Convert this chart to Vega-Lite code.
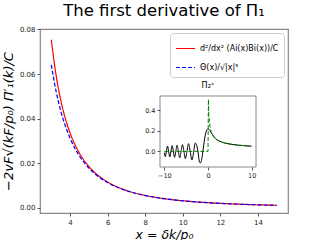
{
  "$schema": "https://vega.github.io/schema/vega-lite/v6.json",
  "width": 248,
  "height": 184,
  "autosize": {"type": "none"},
  "padding": {"left": 40, "top": 29, "right": 32, "bottom": 27},
  "background": "white",
  "title": {"text": "The first derivative of Π₁", "fontSize": 16.5, "font": "DejaVu Sans", "fontWeight": "normal", "color": "black", "offset": 6},
  "config": {
    "font": "DejaVu Sans",
    "view": {"stroke": "#888888", "strokeWidth": 1.2},
    "axis": {"grid": false, "domain": false, "tickColor": "#555555", "tickSize": 3, "labelFontSize": 7, "labelColor": "#222222", "labelFont": "DejaVu Sans", "titleFont": "DejaVu Sans", "titleFontWeight": "normal", "titleColor": "black"},
    "legend": {"title": null, "orient": "top-right", "offset": 4, "fillColor": "white", "strokeColor": "#cccccc", "cornerRadius": 3, "padding": 5, "rowPadding": 4, "labelFontSize": 8, "labelColor": "black", "symbolType": "stroke", "symbolSize": 360, "symbolStrokeWidth": 1.2}
  },
  "datasets": {
    "main": [
      {"x": 3, "v": 0.0754, "curve": "d²/dx² (Ai(x)Bi(x))/C"},
      {"x": 3.25, "v": 0.05979, "curve": "d²/dx² (Ai(x)Bi(x))/C"},
      {"x": 3.5, "v": 0.04846, "curve": "d²/dx² (Ai(x)Bi(x))/C"},
      {"x": 3.75, "v": 0.04003, "curve": "d²/dx² (Ai(x)Bi(x))/C"},
      {"x": 4, "v": 0.03357, "curve": "d²/dx² (Ai(x)Bi(x))/C"},
      {"x": 4.5, "v": 0.02449, "curve": "d²/dx² (Ai(x)Bi(x))/C"},
      {"x": 5, "v": 0.01857, "curve": "d²/dx² (Ai(x)Bi(x))/C"},
      {"x": 5.5, "v": 0.0145, "curve": "d²/dx² (Ai(x)Bi(x))/C"},
      {"x": 6, "v": 0.01159, "curve": "d²/dx² (Ai(x)Bi(x))/C"},
      {"x": 7, "v": 0.007821, "curve": "d²/dx² (Ai(x)Bi(x))/C"},
      {"x": 8, "v": 0.005575, "curve": "d²/dx² (Ai(x)Bi(x))/C"},
      {"x": 9, "v": 0.004142, "curve": "d²/dx² (Ai(x)Bi(x))/C"},
      {"x": 10, "v": 0.003177, "curve": "d²/dx² (Ai(x)Bi(x))/C"},
      {"x": 11, "v": 0.002501, "curve": "d²/dx² (Ai(x)Bi(x))/C"},
      {"x": 12, "v": 0.002011, "curve": "d²/dx² (Ai(x)Bi(x))/C"},
      {"x": 13, "v": 0.001645, "curve": "d²/dx² (Ai(x)Bi(x))/C"},
      {"x": 14, "v": 0.001366, "curve": "d²/dx² (Ai(x)Bi(x))/C"},
      {"x": 15, "v": 0.00115, "curve": "d²/dx² (Ai(x)Bi(x))/C"},
      {"x": 3, "v": 0.06415, "curve": "Θ(x)/√|x|⁵"},
      {"x": 3.25, "v": 0.05252, "curve": "Θ(x)/√|x|⁵"},
      {"x": 3.5, "v": 0.04363, "curve": "Θ(x)/√|x|⁵"},
      {"x": 3.75, "v": 0.03672, "curve": "Θ(x)/√|x|⁵"},
      {"x": 4, "v": 0.03125, "curve": "Θ(x)/√|x|⁵"},
      {"x": 4.5, "v": 0.02328, "curve": "Θ(x)/√|x|⁵"},
      {"x": 5, "v": 0.01789, "curve": "Θ(x)/√|x|⁵"},
      {"x": 5.5, "v": 0.0141, "curve": "Θ(x)/√|x|⁵"},
      {"x": 6, "v": 0.01134, "curve": "Θ(x)/√|x|⁵"},
      {"x": 7, "v": 0.007714, "curve": "Θ(x)/√|x|⁵"},
      {"x": 8, "v": 0.005524, "curve": "Θ(x)/√|x|⁵"},
      {"x": 9, "v": 0.004115, "curve": "Θ(x)/√|x|⁵"},
      {"x": 10, "v": 0.003162, "curve": "Θ(x)/√|x|⁵"},
      {"x": 11, "v": 0.002492, "curve": "Θ(x)/√|x|⁵"},
      {"x": 12, "v": 0.002005, "curve": "Θ(x)/√|x|⁵"},
      {"x": 13, "v": 0.001641, "curve": "Θ(x)/√|x|⁵"},
      {"x": 14, "v": 0.001364, "curve": "Θ(x)/√|x|⁵"},
      {"x": 15, "v": 0.001148, "curve": "Θ(x)/√|x|⁵"}
    ],
    "inset_black": [
      {"x": -10, "v": -0.0123}, {"x": -9.79, "v": -0.0509}, {"x": -9.537, "v": 0},
      {"x": -9.281, "v": 0.0522}, {"x": -9.021, "v": 0}, {"x": -8.758, "v": -0.0538},
      {"x": -8.49, "v": 0}, {"x": -8.219, "v": 0.0555}, {"x": -7.943, "v": 0},
      {"x": -7.662, "v": -0.0575}, {"x": -7.375, "v": 0}, {"x": -7.083, "v": 0.0598},
      {"x": -6.784, "v": 0}, {"x": -6.48, "v": -0.0625}, {"x": -6.168, "v": 0},
      {"x": -5.847, "v": 0.0658}, {"x": -5.517, "v": 0}, {"x": -5.178, "v": -0.0699},
      {"x": -4.827, "v": 0}, {"x": -4.462, "v": 0.0753}, {"x": -4.082, "v": 0},
      {"x": -3.683, "v": -0.0829}, {"x": -3.262, "v": 0}, {"x": -3.0, "v": 0.0751},
      {"x": -2.85, "v": 0.08}, {"x": -2.5, "v": 0.0431}, {"x": -2.25, "v": -0.015},
      {"x": -2.0, "v": -0.0938}, {"x": -1.75, "v": -0.112}, {"x": -1.5, "v": -0.089},
      {"x": -1.25, "v": -0.0239}, {"x": -1.0, "v": 0.0557}, {"x": -0.75, "v": 0.1283},
      {"x": -0.5, "v": 0.181}, {"x": -0.25, "v": 0.2099}, {"x": 0, "v": 0.2184},
      {"x": 0.25, "v": 0.2124}, {"x": 0.5, "v": 0.1979}, {"x": 1, "v": 0.1634},
      {"x": 1.5, "v": 0.1348}, {"x": 2, "v": 0.1152}, {"x": 3, "v": 0.0925},
      {"x": 4, "v": 0.0798}, {"x": 5, "v": 0.0713}, {"x": 6, "v": 0.065},
      {"x": 7, "v": 0.0602}, {"x": 8, "v": 0.0563}, {"x": 9, "v": 0.0531}, {"x": 10, "v": 0.0503}
    ],
    "inset_green": [
      {"x": -10, "v": 0}, {"x": 0, "v": 0}, {"x": 0.1, "v": 0.5033}, {"x": 0.15, "v": 0.411},
      {"x": 0.2, "v": 0.3559}, {"x": 0.3, "v": 0.2906}, {"x": 0.5, "v": 0.2251},
      {"x": 0.75, "v": 0.1838}, {"x": 1, "v": 0.1592}, {"x": 1.5, "v": 0.1299},
      {"x": 2, "v": 0.1125}, {"x": 3, "v": 0.0919}, {"x": 4, "v": 0.0796},
      {"x": 5, "v": 0.0712}, {"x": 6, "v": 0.065}, {"x": 7, "v": 0.0602},
      {"x": 8, "v": 0.0563}, {"x": 9, "v": 0.0531}, {"x": 10, "v": 0.0503}
    ]
  },
  "layer": [
    {
      "data": {"name": "main"},
      "mark": {"type": "line", "strokeWidth": 1.2, "interpolate": "monotone"},
      "encoding": {
        "x": {"field": "x", "type": "quantitative", "scale": {"domain": [2.4, 15.6], "nice": false, "zero": false},
              "axis": {"orient": "bottom", "values": [4, 6, 8, 10, 12, 14], "title": "x = δk/p₀", "titleFontSize": 12.5, "titleFontStyle": "italic", "titlePadding": 3}},
        "y": {"field": "v", "type": "quantitative", "scale": {"domain": [-0.0023, 0.0802], "nice": false, "zero": false},
              "axis": {"orient": "left", "values": [0, 0.02, 0.04, 0.06, 0.08], "format": ".2f", "title": "−2vF√(kF/p₀) Π′₁(k)/C", "titleFontSize": 13, "titleFontStyle": "italic", "titlePadding": 4}},
        "color": {"field": "curve", "type": "nominal", "sort": null, "title": null,
                  "scale": {"domain": ["d²/dx² (Ai(x)Bi(x))/C", "Θ(x)/√|x|⁵"], "range": ["#ff0000", "#0000ff"]}},
        "strokeDash": {"field": "curve", "type": "nominal", "sort": null, "title": null,
                  "scale": {"domain": ["d²/dx² (Ai(x)Bi(x))/C", "Θ(x)/√|x|⁵"], "range": [[1, 0], [4, 2]]}}
      }
    },
    {
      "data": {"values": [{}]},
      "mark": {"type": "rect", "fill": "white", "stroke": "#888888", "strokeWidth": 1},
      "encoding": {
        "x": {"datum": -11, "type": "quantitative", "scale": {"domain": [-11, 11], "range": [120, 216], "nice": false, "zero": false}, "axis": null},
        "x2": {"datum": 11},
        "y": {"datum": -0.151, "type": "quantitative", "scale": {"domain": [-0.151, 0.536], "range": [138, 67], "nice": false, "zero": false}, "axis": null},
        "y2": {"datum": 0.536}
      }
    },
    {
      "data": {"name": "inset_black"},
      "mark": {"type": "line", "color": "black", "strokeWidth": 1, "interpolate": "monotone"},
      "encoding": {
        "x": {"field": "x", "type": "quantitative", "scale": {"domain": [-11, 11], "range": [120, 216], "nice": false, "zero": false},
              "axis": {"orient": "bottom", "offset": -46, "values": [-10, 0, 10], "format": "d", "title": null, "zindex": 1, "labelFontSize": 6.5}},
        "y": {"field": "v", "type": "quantitative", "scale": {"domain": [-0.151, 0.536], "range": [138, 67], "nice": false, "zero": false},
              "axis": {"orient": "left", "offset": -120, "values": [0, 0.2, 0.4], "format": ".1f", "title": null, "zindex": 1, "labelFontSize": 6.5}}
      }
    },
    {
      "data": {"name": "inset_green"},
      "mark": {"type": "line", "color": "#008000", "strokeWidth": 1, "strokeDash": [4, 2]},
      "encoding": {
        "x": {"field": "x", "type": "quantitative", "scale": {"domain": [-11, 11], "range": [120, 216], "nice": false, "zero": false}, "axis": null},
        "y": {"field": "v", "type": "quantitative", "scale": {"domain": [-0.151, 0.536], "range": [138, 67], "nice": false, "zero": false}, "axis": null}
      }
    },
    {
      "data": {"values": [{}]},
      "mark": {"type": "text", "text": "Π₂ˣ", "fontSize": 8, "baseline": "middle", "align": "center", "fill": "black"},
      "encoding": {
        "x": {"datum": 0, "type": "quantitative", "scale": {"domain": [-11, 11], "range": [120, 216], "nice": false, "zero": false}, "axis": null},
        "y": {"datum": 0.63, "type": "quantitative", "scale": {"domain": [-0.151, 0.536], "range": [138, 67], "nice": false, "zero": false}, "axis": null}
      }
    }
  ],
  "resolve": {"scale": {"x": "independent", "y": "independent"}, "axis": {"x": "independent", "y": "independent"}}
}
